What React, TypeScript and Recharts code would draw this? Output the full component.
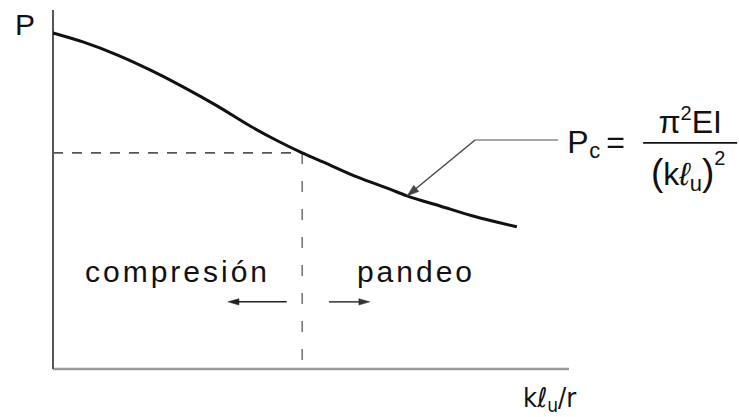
import React from 'react';
import { LineChart, Line, XAxis, YAxis, ReferenceLine, ReferenceDot } from 'recharts';

// Slenderness (k·lu/r, % of axis) and axial capacity P (% of axis)
const SLENDERNESS = [0, 5.8, 12.4, 18.8, 25.2, 31.8, 38.2, 43.2, 48.3, 52.3, 58.9, 65.3, 68.6, 75.0, 81.4, 89.9];
const LOAD = [93.6, 91.1, 87.5, 83.3, 78.6, 73.3, 67.7, 63.8, 60.2, 57.7, 53.5, 50.1, 48.2, 45.4, 42.6, 39.6];

const CRIT_SLENDERNESS = 48.3;
const CRIT_LOAD = 60.2;

const LEADER_TIP = { x: 68.6, y: 48.2 };
const LEADER_ELBOW = { x: 81.8, y: 63.8 };
const LEADER_END = { x: 97.9, y: 63.8 };

const ARROW_Y = 18.7;
const COMP_ARROW = [45.3, 33.9];
const PANDEO_ARROW = [53.5, 61.4];

const REGION_LABELS = ['compresión', 'pandeo'];
const REGION_LABEL_X = [6.2, 58.9];
const REGION_LABEL_Y = 24.2;

const data = SLENDERNESS.map((x, i) => ({ x, p: LOAD[i] }));

const FONT = '"Liberation Sans", Arial, sans-serif';

function makeArrow(color: string, width: number, len: number, half: number) {
  return (props: any) => {
    const { x1, y1, x2, y2 } = props;
    const a = Math.atan2(y2 - y1, x2 - x1);
    const c = Math.cos(a);
    const s = Math.sin(a);
    const bx = x2 - len * c;
    const by = y2 - len * s;
    const p1 = `${x2},${y2}`;
    const p2 = `${bx - half * s},${by + half * c}`;
    const p3 = `${bx + half * s},${by - half * c}`;
    return (
      <g>
        <line x1={x1} y1={y1} x2={bx + 1 * c} y2={by + 1 * s} stroke={color} strokeWidth={width} />
        <polygon points={`${p1} ${p2} ${p3}`} fill={color} stroke={color} strokeWidth={0.5} />
      </g>
    );
  };
}

const plainLine = (color: string, width: number) => (props: any) => (
  <line x1={props.x1} y1={props.y1} x2={props.x2} y2={props.y2} stroke={color} strokeWidth={width} />
);

export default function App() {
  return (
    <div style={{ position: 'absolute', left: 0, top: 0, width: 739, height: 417, background: '#fff' }}>
      <LineChart
        width={739}
        height={417}
        data={data}
        margin={{ top: 10, right: 170, bottom: 48, left: 53 }}
      >
        <XAxis dataKey="x" type="number" domain={[0, 100]} hide />
        <YAxis type="number" domain={[0, 100]} hide />
        {/* axis lines */}
        <ReferenceLine
          segment={[{ x: 0, y: 0 }, { x: 100, y: 0 }]}
          shape={plainLine('#9a9a9a', 2.5)}
        />
        <ReferenceLine
          segment={[{ x: 0, y: 0 }, { x: 0, y: 100 }]}
          shape={plainLine('#555', 2)}
        />
        <ReferenceLine
          segment={[{ x: 0, y: CRIT_LOAD }, { x: CRIT_SLENDERNESS, y: CRIT_LOAD }]}
          stroke="#555"
          strokeWidth={1.6}
          strokeDasharray="10 9"
        />
        <ReferenceLine
          segment={[{ x: CRIT_SLENDERNESS, y: CRIT_LOAD }, { x: CRIT_SLENDERNESS, y: 0 }]}
          stroke="#777"
          strokeWidth={1.6}
          strokeDasharray="11 17"
        />
        <Line
          dataKey="p"
          type="monotone"
          stroke="#111"
          strokeWidth={3}
          dot={false}
          activeDot={false}
          isAnimationActive={false}
        />
        <ReferenceLine
          segment={[LEADER_ELBOW, LEADER_END]}
          shape={plainLine('#888', 1.6)}
        />
        <ReferenceLine
          segment={[LEADER_ELBOW, LEADER_TIP]}
          shape={makeArrow('#444', 1.4, 12, 4)}
        />
        <ReferenceLine
          segment={[{ x: COMP_ARROW[0], y: ARROW_Y }, { x: COMP_ARROW[1], y: ARROW_Y }]}
          shape={makeArrow('#222', 1.5, 11, 3.2)}
        />
        <ReferenceLine
          segment={[{ x: PANDEO_ARROW[0], y: ARROW_Y }, { x: PANDEO_ARROW[1], y: ARROW_Y }]}
          shape={makeArrow('#333', 1.5, 11, 3.2)}
        />
        {REGION_LABELS.map((t, i) => (
          <ReferenceDot
            key={t}
            x={REGION_LABEL_X[i]}
            y={REGION_LABEL_Y}
            ifOverflow="visible"
            shape={(p: any) => (
              <text x={p.cx} y={p.cy} fontFamily={FONT} fontSize={30} letterSpacing={3} fill="#111">
                {t}
              </text>
            )}
          />
        ))}
        {/* Y axis title */}
        <ReferenceDot
          x={0}
          y={93}
          ifOverflow="visible"
          shape={(p: any) => (
            <text x={p.cx - 38} y={p.cy} fontFamily={FONT} fontSize={30} fill="#111">
              P
            </text>
          )}
        />
        {/* X axis title */}
        <ReferenceDot
          x={91.1}
          y={0}
          ifOverflow="visible"
          shape={(p: any) => (
            <text
              x={p.cx}
              y={p.cy + 38}
              fontFamily={'"Liberation Sans Narrow", "DejaVu Sans Condensed", Arial, sans-serif'}
              fontSize={27}
              fill="#111"
            >
              kℓ<tspan fontSize={19} dy={5}>u</tspan>
              <tspan dy={-5}>/r</tspan>
            </text>
          )}
        />
        {/* Euler formula */}
        <ReferenceDot
          x={LEADER_END.x}
          y={LEADER_END.y}
          ifOverflow="visible"
          shape={(p: any) => {
            const x = p.cx;
            const y = p.cy;
            return (
              <g fontFamily={FONT} fill="#111">
                <text x={x + 9} y={y + 13} fontSize={32}>P</text>
                <text x={x + 31} y={y + 18} fontSize={22}>c</text>
                <text x={x + 48} y={y + 13} fontSize={32}>=</text>
                <line x1={x + 85} y1={y + 3} x2={x + 179} y2={y + 3} stroke="#111" strokeWidth={1.8} />
                <text x={x + 132} y={y - 7} fontSize={32} textAnchor="middle">
                  π<tspan fontSize={20} dy={-13}>2</tspan>
                  <tspan dy={13}>EI</tspan>
                </text>
                <text x={x + 130} y={y + 45} fontSize={32} textAnchor="middle">
                  <tspan fontSize={37}>(</tspan>k<tspan fontStyle="italic">ℓ</tspan>
                  <tspan fontSize={22} dy={6}>u</tspan>
                  <tspan fontSize={37} dy={-6}>)</tspan>
                  <tspan fontSize={20} dy={-20}>2</tspan>
                </text>
              </g>
            );
          }}
        />
      </LineChart>
    </div>
  );
}
